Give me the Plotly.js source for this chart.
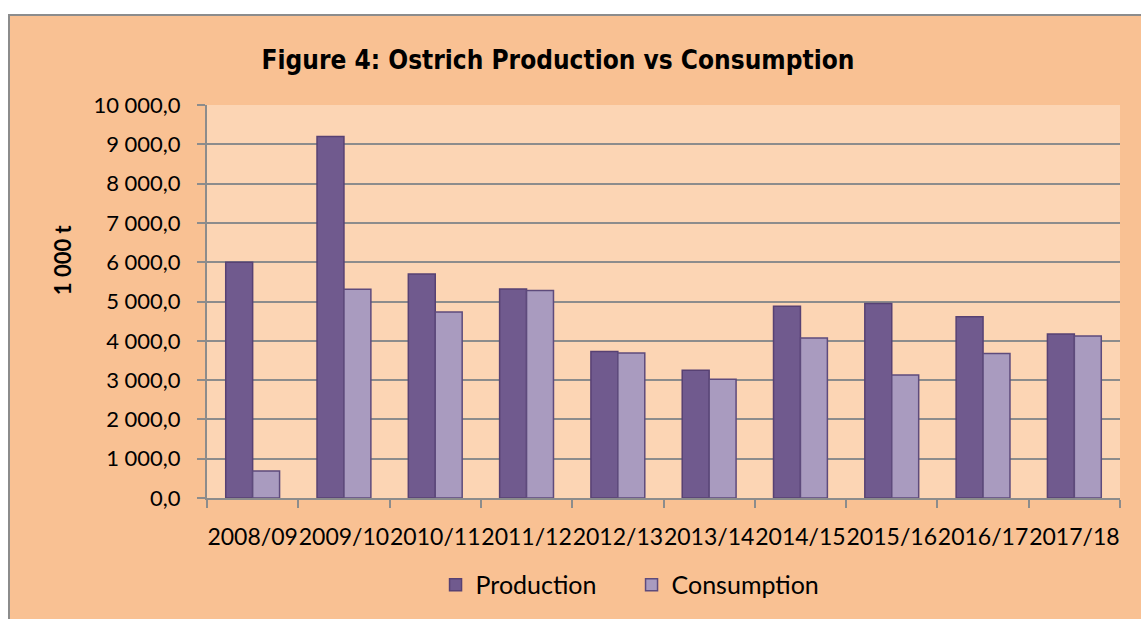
<!DOCTYPE html>
<html>
<head>
<meta charset="utf-8">
<script src="https://cdn.plot.ly/plotly-3.0.1.min.js"></script>
<style>
  html, body { margin: 0; padding: 0; background: #ffffff; width: 1141px; height: 619px; overflow: hidden; }
  #frame { position: absolute; left: 8px; top: 14px; width: 1133px; height: 605px;
           border-top: 2px solid #8c8c8c; border-left: 2px solid #8c8c8c; box-sizing: border-box; background: #F9C193; }
  #chart { position: absolute; left: 0; top: 0; width: 1131px; height: 603px; }
</style>
</head>
<body>
<div id="frame"><div id="chart"></div></div>
<script>
const categories = ["2008/09","2009/10","2010/11","2011/12","2012/13","2013/14","2014/15","2015/16","2016/17","2017/18"];
const production = [6000, 9200, 5700, 5320, 3730, 3250, 4880, 4950, 4610, 4170];
const consumption = [690, 5310, 4730, 5280, 3690, 3020, 4070, 3130, 3680, 4120];
const yTickValues = [0,1000,2000,3000,4000,5000,6000,7000,8000,9000,10000];

const xTickFont = {family: "Lato, 'Liberation Sans', sans-serif", size: 23, color: "#000000"};
const yTickFont = {family: "Lato, 'Liberation Sans', sans-serif", size: 22, color: "#000000"};

const traces = [
  {type: "bar", name: "Production", x: categories, y: production,
   marker: {color: "#705A8E", line: {color: "#574173", width: 1.5}}, hoverinfo: "skip"},
  {type: "bar", name: "Consumption", x: categories, y: consumption,
   marker: {color: "#A99BBF", line: {color: "#5E4B7C", width: 1.5}}, hoverinfo: "skip"}
];

const layout = {
  width: 1131, height: 603,
  paper_bgcolor: "#F9C193", plot_bgcolor: "#FCD5B4",
  margin: {l: 197, r: 21, t: 89, b: 120},
  separators: ", ",
  barmode: "group", bargap: 0.41, bargroupgap: 0,
  title: {text: "Figure 4: Ostrich Production vs Consumption",
          font: {family: "'Liberation Sans Narrow', 'DejaVu Sans Condensed', 'Liberation Sans', sans-serif", size: 26, color: "#000000", weight: "bold"},
          x: 0.4845, xanchor: "center", xref: "container", y: 0.927, yanchor: "middle", yref: "container"},
  xaxis: {type: "category", tickfont: xTickFont, tickangle: 0, tickson: "boundaries", ticks: "outside", ticklen: 8,
          tickwidth: 2, tickcolor: "#8c8c8c", showline: true, linecolor: "#8c8c8c", linewidth: 2,
          ticklabelstandoff: 17,
          showgrid: false, zeroline: false, fixedrange: true},
  yaxis: {range: [0, 10000], tickvals: yTickValues, tickformat: ",.1f", tickfont: yTickFont,
          ticks: "outside", ticklen: 8, tickwidth: 2, tickcolor: "#8c8c8c",
          showline: true, linecolor: "#8c8c8c", linewidth: 2, ticklabelstandoff: 12,
          showgrid: true, gridcolor: "#8c8c8c", gridwidth: 2, zeroline: false, fixedrange: true},
  showlegend: true,
  legend: {orientation: "h", x: 0.465, xanchor: "center", y: -0.218, yanchor: "middle",
           font: {family: "Lato, 'Liberation Sans', sans-serif", size: 25, color: "#000000"},
           bgcolor: "rgba(0,0,0,0)", itemwidth: 30, entrywidth: 151, tracegroupgap: 0},
  annotations: [{text: "<b>1 000 t</b>", textangle: -90, xref: "paper", yref: "paper",
                 x: -0.158, y: 0.607, xanchor: "center", yanchor: "middle", showarrow: false,
                 font: {family: "Lato, 'Liberation Sans', sans-serif", size: 22, color: "#000000"}}]
};

Plotly.newPlot("chart", traces, layout, {displayModeBar: false, staticPlot: true});
</script>
</body>
</html>
